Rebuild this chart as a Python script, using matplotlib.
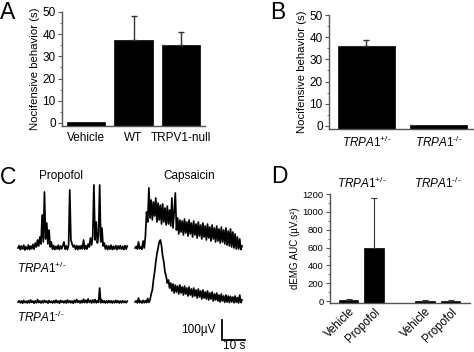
import numpy as np
import matplotlib
matplotlib.use("Agg")
from matplotlib import pyplot as plt
from matplotlib.ticker import MultipleLocator

plt.rcParams['font.family'] = ['Liberation Sans', 'DejaVu Sans']
plt.rcParams['mathtext.fontset'] = 'custom'
plt.rcParams['mathtext.rm'] = 'Liberation Sans'
plt.rcParams['mathtext.it'] = 'Liberation Sans:italic'

# panel A
a_labels = ['Vehicle', 'WT', 'TRPV1-null']
a_values = [0.6, 37.5, 35.0]
a_err = [0.0, 10.8, 6.0]

# panel B
b_labels = [r'$TRPA1^{+/\text{-}}$', r'$TRPA1^{\text{-}/\text{-}}$']
b_values = [36.0, 0.5]
b_err = [2.8, 0.0]

# panel D
d_labels = ['Vehicle', 'Propofol', 'Vehicle', 'Propofol']
d_groups = [r'$TRPA1^{+/\text{-}}$', r'$TRPA1^{\text{-}/\text{-}}$']
d_values = [15, 600, 5, 5]
d_err = [10, 550, 3, 5]

# panel C, EMG traces (uV), one sample every 0.5 s
dt = 0.5
propofol_het = [0, 12, -8, 10, -5, 14, -10, 6, -6, 15, -8, 10, -4, 18, -6, 25,
                5, 40, 10, 55, 20, 165, 30, 280, 45, 125, 20, 90, 5, 30, -6, 12,
                -8, 8, -5, 14, -8, 10, -4, 12, 30, -6, 10, -8, 15, 290, 40, 20,
                5, 14, -6, 12, -8, 10, -5, 12, -4, 40, -6, 12, -5, 20, 5, 50,
                15, 60, 315, 40, 130, 25, 60, 315, 30, 100, 10, 25, -5, 12, -8, 10,
                -6, 14, -8, 8, -5, 12, -8, 10, -4, 12, -6, 8, -8, 12, -5, 10]
propofol_ko = [0, 6, -4, 5, -6, 8, -3, 4, -5, 7, -4, 10, -2, 5, -6, 6, -4, 12, -3, 5,
               -5, 6, -4, 8, -2, 5, -6, 7, -3, 4, -5, 6, -4, 9, -3, 5, -6, 8, -2, 5,
               -4, 6, -5, 10, -3, 6, -4, 5, -6, 8, -3, 12, -2, 6, -5, 7, -4, 14, -3, 9,
               -4, 15, -2, 8, -5, 10, -3, 12, -4, 6, -2, 70, -4, 10, -3, 6, -5, 5, -4, 7,
               -3, 6, -5, 5, -4, 8, -3, 6, -5, 5, -4, 6, -3, 5, -4, 4]
capsaicin_het = [0, 8, -5, 30, -4, 6, -6, 35, 0, 60, 180, 130, 300, 150, 240, 140,
                 230, 160, 250, 130, 225, 140, 215, 120, 220, 130, 200, 115, 210, 120, 190, 110,
                 250, 100, 180, 275, 90, 150, 70, 140, 80, 135, 65, 145, 75, 130, 60, 140,
                 70, 125, 55, 135, 65, 120, 50, 130, 60, 115, 45, 125, 55, 110, 40, 120,
                 50, 105, 35, 115, 45, 100, 30, 110, 35, 95, 25, 105, 30, 90, 20, 100,
                 15, 85, 10, 95, 5, 80, 0, 70, -5, 55, -5, 45, -8, 10]
capsaicin_ko = [0, 6, -4, 20, -3, 5, -5, 8, -4, 6, -3, 18, -2, 10, 40, 60,
                110, 150, 200, 240, 270, 300, 310, 280, 230, 200, 150, 130, 95, 110, 70, 95,
                55, 90, 45, 85, 50, 80, 40, 85, 45, 75, 35, 80, 40, 70, 30, 75,
                35, 65, 25, 70, 30, 60, 20, 65, 25, 55, 15, 60, 20, 50, 15, 55,
                10, 45, 15, 50, 5, 40, 10, 45, 5, 35, 0, 40, 5, 30, -2, 35,
                0, 30, -3, 28, 0, 25, -4, 30, -2, 22, -5, 35, -3, 10]

W, H = 474, 352
fig = plt.figure(figsize=(W / 100, H / 100), dpi=100)
spine_col = '#555555'


def px_axes(left, right, top, bottom):
    return fig.add_axes([left / W, 1 - bottom / H, (right - left) / W, (bottom - top) / H])


def style_bar_axes(ax, size):
    for s in ['top', 'right']:
        ax.spines[s].set_visible(False)
    for s in ['left', 'bottom']:
        ax.spines[s].set_color(spine_col)
        ax.spines[s].set_linewidth(1.0)
    ax.tick_params(axis='y', colors=spine_col, labelcolor='black', labelsize=size,
                   length=3, width=0.8, pad=1.5)
    ax.tick_params(axis='y', which='minor', colors=spine_col, length=1.8, width=0.6)
    ax.tick_params(axis='x', length=0)


def bars(ax, x, vals, errs, width, base, lw):
    vals = np.array(vals, dtype=float)
    ax.bar(x, vals - base, bottom=base, width=width, color='black', edgecolor='black', linewidth=0.5)
    for xi, v, e in zip(x, vals, errs):
        if e > 0:
            ax.errorbar(xi, v, yerr=[[0], [e]], color='#333333', elinewidth=lw, capsize=2.5,
                        capthick=lw)


# ---- A
ax = px_axes(62, 205, 12, 126)
xa = np.arange(len(a_values))
bars(ax, xa, a_values, a_err, 0.8, -1.4, 1.0)
ax.set_xlim(-0.5, 2.5)
ax.set_ylim(-1.4, 50)
ax.yaxis.set_major_locator(MultipleLocator(10))
ax.yaxis.set_minor_locator(MultipleLocator(5))
style_bar_axes(ax, 8.5)
ax.set_xticks(xa)
ax.set_xticklabels(a_labels, fontsize=8.5)
ax.tick_params(axis='x', pad=4)
ax.set_ylabel('Nocifensive behavior (s)', fontsize=8.2, labelpad=2)

# ---- B
ax = px_axes(329, 473, 15, 129)
xb = np.arange(len(b_values))
bars(ax, xb, b_values, b_err, 0.79, -1.4, 1.0)
ax.set_xlim(-0.52, 1.48)
ax.set_ylim(-1.4, 50)
ax.yaxis.set_major_locator(MultipleLocator(10))
ax.yaxis.set_minor_locator(MultipleLocator(5))
style_bar_axes(ax, 8.5)
ax.set_xticks(xb)
ax.set_xticklabels(b_labels, fontsize=8.5)
ax.tick_params(axis='x', pad=4)
ax.set_ylabel('Nocifensive behavior (s)', fontsize=8.2, labelpad=2)

# ---- D
ax = px_axes(330, 470, 194, 303)
xd = np.array([0, 1, 3, 4])
bars(ax, xd, d_values, d_err, 0.76, -22, 0.8)
ax.set_xlim(-0.73, 4.76)
ax.set_ylim(-22, 1200)
ax.yaxis.set_major_locator(MultipleLocator(200))
ax.yaxis.set_minor_locator(MultipleLocator(100))
style_bar_axes(ax, 6.8)
ax.set_xticks(xd)
ax.set_xticklabels(d_labels, fontsize=8.3, rotation=45, ha='right', rotation_mode='anchor')
ax.tick_params(axis='x', pad=2)
ax.set_ylabel('dEMG AUC (µV.s²)', fontsize=7, labelpad=2)
for gx, g in zip([0.5, 3.5], d_groups):
    ax.text(gx, 1235, g, ha='center', va='bottom', fontsize=8.5)

# ---- C
ax = px_axes(10, 250, 160, 352)
ax.set_xlim(-3.48, 100.87)
ax.set_ylim(-520, 440)
ax.axis('off')
caps_start = 50.9
ko_offset = -270
trace_lw = 1.25
t_left = np.arange(len(propofol_het)) * dt
t_right = caps_start + np.arange(len(capsaicin_het)) * dt
ax.plot(t_left, propofol_het, color='black', lw=trace_lw)
ax.plot(t_right, capsaicin_het, color='black', lw=trace_lw)
ax.plot(np.arange(len(propofol_ko)) * dt, np.array(propofol_ko) + ko_offset, color='black', lw=trace_lw)
ax.plot(caps_start + np.arange(len(capsaicin_ko)) * dt, np.array(capsaicin_ko) + ko_offset,
        color='black', lw=trace_lw)
ax.text(18.7, 360, 'Propofol', ha='center', va='center', fontsize=8.5)
ax.text(74.3, 360, 'Capsaicin', ha='center', va='center', fontsize=8.5)
ax.text(-0.6, -100, r'$TRPA1^{+/\text{-}}$', ha='left', va='center', fontsize=8.5)
ax.text(-0.6, -345, r'$TRPA1^{\text{-}/\text{-}}$', ha='left', va='center', fontsize=8.5)
# scale bar 100 uV / 10 s
ax.plot([88.7, 88.7, 98.7], [-360, -460, -460], color='black', lw=1.3, solid_joinstyle='miter')
ax.text(86.0, -412, '100µV', ha='right', va='center', fontsize=8.5)
ax.text(94.0, -492, '10 s', ha='center', va='center', fontsize=8.5)

# panel letters
for lx, ly, s in [(0, 1, 'A'), (270, 1, 'B'), (0, 166, 'C'), (271, 165, 'D')]:
    fig.text(lx / W, 1 - ly / H, s, ha='left', va='top', fontsize=16.5)

fig.savefig('out.png', dpi=100)
